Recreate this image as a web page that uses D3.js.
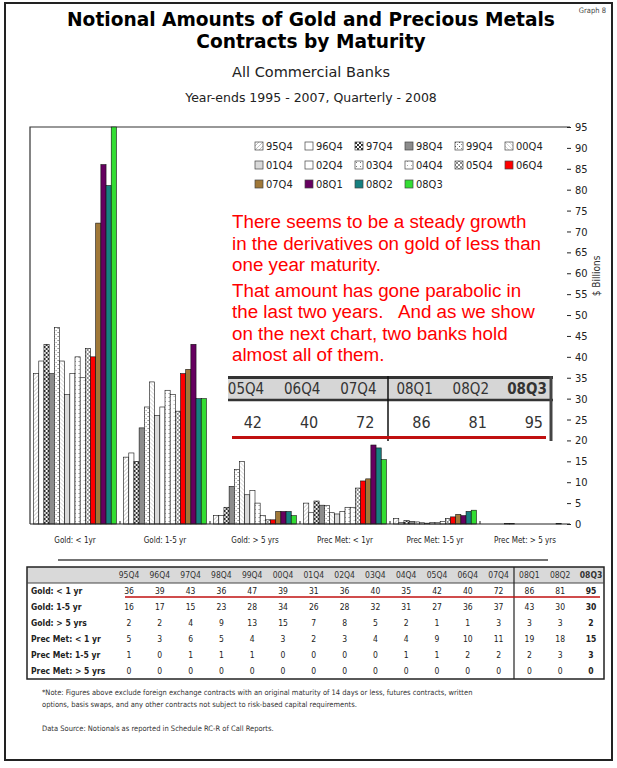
<!DOCTYPE html>
<html>
<head>
<meta charset="utf-8">
<script src="https://cdn.jsdelivr.net/npm/d3@7"></script>
<style>
  body { margin: 0; background: #fff; }
  svg text { font-family: "DejaVu Sans Condensed", "Liberation Sans Narrow", sans-serif; }
</style>
</head>
<body>
<svg id="chart" width="617" height="768"></svg>
<script>
// series (one bar per period in every group)
var series = ["95Q4", "96Q4", "97Q4", "98Q4", "99Q4", "00Q4", "01Q4", "02Q4",
    "03Q4", "04Q4", "05Q4", "06Q4", "07Q4", "08Q1", "08Q2", "08Q3"];
var categories = ["Gold: < 1yr", "Gold: 1-5 yr", "Gold: > 5 yrs",
    "Prec Met: < 1yr", "Prec Met: 1-5 yr", "Prec Met: > 5 yrs"];
var rowLabels = ["Gold: < 1 yr", "Gold: 1-5 yr", "Gold: > 5 yrs",
    "Prec Met: < 1 yr", "Prec Met: 1-5 yr", "Prec Met: > 5 yrs"];

var goldUnder1 = [36, 39, 43, 36, 47, 39, 31, 36, 40, 35, 42, 40, 72, 86, 81, 95];
var gold1to5 = [16, 17, 15, 23, 28, 34, 26, 28, 32, 31, 27, 36, 37, 43, 30, 30];
var goldOver5 = [2, 2, 4, 9, 13, 15, 7, 8, 5, 2, 1, 1, 3, 3, 3, 2];
var pmUnder1 = [5, 2.7, 5.5, 4.5, 4.4, 2.7, 2.4, 3, 4, 4, 8.6, 10.3, 10.8, 18.9, 18.2, 15.4];
var pm1to5 = [1.3, 0.4, 0.8, 0.6, 0.5, 0.3, 0.2, 0.4, 0.3, 0.6, 1.3, 1.7, 2.3, 2, 3, 3.3];
var pmOver5 = [0, 0, 0, 0, 0.15, 0.15, 0, 0, 0, 0, 0, 0, 0, 0, 0.15, 0];
var values = [goldUnder1, gold1to5, goldOver5, pmUnder1, pm1to5, pmOver5];

var yTicks = d3.range(0, 96, 5);

var svg = d3.select("#chart");
var defs = svg.append("defs");

// hatch patterns for the old year-end bars
function pat(id, bg, draw) {
    var p = defs.append("pattern").attr("id", id)
        .attr("patternUnits", "userSpaceOnUse").attr("width", 4).attr("height", 4);
    p.append("rect").attr("width", 4).attr("height", 4).attr("fill", bg);
    draw(p);
}
pat("p95", "#fff", function (p) {
    p.append("path").attr("d", "M0,4L4,0").attr("stroke", "#999").attr("stroke-width", 0.6);
});
pat("p97", "#fff", function (p) {
    p.append("rect").attr("width", 2).attr("height", 2).attr("fill", "#333");
    p.append("rect").attr("x", 2).attr("y", 2).attr("width", 2).attr("height", 2).attr("fill", "#333");
});
pat("p99", "#fff", function (p) {
    p.append("rect").attr("width", 1).attr("height", 1).attr("fill", "#555");
    p.append("rect").attr("x", 2).attr("y", 2).attr("width", 1).attr("height", 1).attr("fill", "#888");
});
pat("p00", "#fff", function (p) {
    p.append("path").attr("d", "M0,0L4,4").attr("stroke", "#bbb").attr("stroke-width", 0.6);
});
pat("p03", "#fff", function (p) {
    p.append("rect").attr("x", 1).attr("y", 1).attr("width", 1).attr("height", 1).attr("fill", "#777");
});
pat("p04", "#fff", function (p) {
    p.append("rect").attr("x", 2).attr("y", 0).attr("width", 1).attr("height", 1).attr("fill", "#aaa");
});
pat("p05", "#fff", function (p) {
    p.append("path").attr("d", "M0,0L4,4M0,4L4,0").attr("stroke", "#555").attr("stroke-width", 0.7);
});

var fills = ["url(#p95)", "#fff", "url(#p97)", "#8c8c8c", "url(#p99)", "url(#p00)",
    "#d9d9d9", "#fff", "url(#p03)", "url(#p04)", "url(#p05)",
    "#ff0000", "#a07838", "#660060", "#168080", "#33dd33"];
var color = d3.scaleOrdinal().domain(series).range(fills);

// outer frame
svg.append("rect").attr("x", 5).attr("y", 3).attr("width", 607).attr("height", 757)
    .attr("fill", "none").attr("stroke", "#222").attr("stroke-width", 2);

svg.append("text").attr("x", 606).attr("y", 13).attr("text-anchor", "end")
    .attr("font-size", 7.5).attr("fill", "#444").text("Graph 8");

var title = svg.append("g").attr("text-anchor", "middle");
title.append("text").attr("x", 311).attr("y", 26)
    .style("font-family", "'DejaVu Sans', sans-serif")
    .attr("font-size", 18.6).attr("font-weight", "bold").text("Notional Amounts of Gold and Precious Metals");
title.append("text").attr("x", 311).attr("y", 48)
    .style("font-family", "'DejaVu Sans', sans-serif")
    .attr("font-size", 18.6).attr("font-weight", "bold").text("Contracts by Maturity");
title.append("text").attr("x", 311).attr("y", 77)
    .style("font-family", "'DejaVu Sans', sans-serif")
    .attr("font-size", 14.5).attr("fill", "#222").text("All Commercial Banks");
title.append("text").attr("x", 311).attr("y", 102)
    .style("font-family", "'DejaVu Sans', sans-serif")
    .attr("font-size", 12.5).attr("fill", "#222").text("Year-ends 1995 - 2007, Quarterly - 2008");

// plot area
var plotL = 30, plotR = 570, plotT = 127, plotB = 524;
var x0 = d3.scaleBand().domain(categories).range([plotL, plotR]).paddingInner(0.08).paddingOuter(0.04);
var x1 = d3.scaleBand().domain(series).range([0, x0.bandwidth()]);
var y = d3.scaleLinear().domain([0, 95]).range([plotB, plotT]);

svg.append("path").attr("d", "M" + plotL + "," + plotB + "V" + plotT + "H" + plotR)
    .attr("fill", "none").attr("stroke", "#333").attr("stroke-width", 1.2);

var groups = svg.append("g").selectAll("g").data(categories).join("g")
    .attr("transform", function (d) { return "translate(" + x0(d) + ",0)"; });
groups.selectAll("rect")
    .data(function (d, i) {
        return values[i].map(function (v, j) { return { s: series[j], v: v }; })
            .filter(function (e) { return e.v > 0; });
    })
    .join("rect")
    .attr("x", function (d) { return x1(d.s); })
    .attr("y", function (d) { return y(d.v); })
    .attr("width", x1.bandwidth())
    .attr("height", function (d) { return plotB - y(d.v); })
    .attr("fill", function (d) { return color(d.s); })
    .attr("stroke", "#111").attr("stroke-width", 0.6);

// baseline with small category ticks
svg.append("line").attr("x1", plotL).attr("x2", plotR).attr("y1", plotB).attr("y2", plotB)
    .attr("stroke", "#222").attr("stroke-width", 1.2);
svg.append("g").selectAll("line").data(categories.slice(1)).join("line")
    .attr("x1", function (d) { return x0(d) - x0.step() * x0.paddingInner() / 2; })
    .attr("x2", function (d) { return x0(d) - x0.step() * x0.paddingInner() / 2; })
    .attr("y1", plotB).attr("y2", plotB - 3).attr("stroke", "#222");

svg.append("g").attr("font-size", 8).attr("text-anchor", "middle")
    .selectAll("text").data(categories).join("text")
    .attr("x", function (d) { return x0(d) + x0.bandwidth() / 2; })
    .attr("y", 543).attr("fill", "#222")
    .text(function (d) { return d; });

svg.append("line").attr("x1", 58).attr("x2", 548).attr("y1", 560).attr("y2", 560)
    .attr("stroke", "#444").attr("stroke-width", 1.5);

// y axis on the right
var yAxis = svg.append("g").attr("transform", "translate(567,0)")
    .call(d3.axisRight(y).tickValues(yTicks).tickSize(4).tickPadding(4));
yAxis.select(".domain").remove();
yAxis.selectAll("text").attr("font-size", 11).attr("fill", "#222")
    .style("font-family", "'DejaVu Sans Condensed', sans-serif");
yAxis.selectAll("line").attr("stroke", "#222");
svg.append("text").attr("transform", "translate(600,276) rotate(-90)")
    .attr("text-anchor", "middle").attr("font-size", 10).attr("fill", "#333").text("$ Billions");

// legend, three rows of six
var legend = svg.append("g").selectAll("g").data(series).join("g")
    .attr("transform", function (d, i) {
        return "translate(" + (255 + (i % 6) * 50) + "," + (146 + Math.floor(i / 6) * 19) + ")";
    });
legend.append("rect").attr("x", 0).attr("y", -4).attr("width", 8).attr("height", 8)
    .attr("fill", function (d) { return color(d); }).attr("stroke", "#444").attr("stroke-width", 0.7);
legend.append("text").attr("x", 11).attr("y", 4).attr("font-size", 11).attr("fill", "#222")
    .text(function (d) { return d; });

// red annotation
var note = ["There seems to be a steady growth", "in the derivatives on gold of less than",
    "one year maturity.", "That amount has gone parabolic in",
    "the last two years.   And as we show", "on the next chart, two banks hold",
    "almost all of them."];
var noteY = [228, 250, 271, 297, 318, 340, 361];
svg.append("g").selectAll("text").data(note).join("text")
    .attr("x", 232).attr("y", function (d, i) { return noteY[i]; })
    .style("font-family", "'Liberation Sans', Arial, sans-serif").style("white-space", "pre")
    .attr("font-size", 18.8).attr("fill", "#ff0000")
    .text(function (d) { return d; });

// pasted table snippet
var inset = svg.append("g");
var insetCols = series.slice(10);
var xi = d3.scalePoint().domain(insetCols).range([246, 527]);
inset.append("rect").attr("x", 228).attr("y", 376).attr("width", 325).attr("height", 65).attr("fill", "#fff");
inset.append("rect").attr("x", 228).attr("y", 378).attr("width", 323).attr("height", 21).attr("fill", "#d6d6d6");
inset.append("line").attr("x1", 228).attr("x2", 553).attr("y1", 377.5).attr("y2", 377.5)
    .attr("stroke", "#333").attr("stroke-width", 3);
inset.append("line").attr("x1", 228).attr("x2", 553).attr("y1", 400).attr("y2", 400)
    .attr("stroke", "#333").attr("stroke-width", 2.5);
inset.append("line").attr("x1", 388).attr("x2", 388).attr("y1", 376).attr("y2", 441)
    .attr("stroke", "#111").attr("stroke-width", 1.5);
inset.append("line").attr("x1", 551).attr("x2", 551).attr("y1", 376).attr("y2", 441)
    .attr("stroke", "#444").attr("stroke-width", 3);
inset.selectAll(".ih").data(insetCols).join("text").attr("class", "ih")
    .attr("x", function (d) { return xi(d); }).attr("y", 394)
    .attr("text-anchor", "middle").attr("font-size", 15).attr("fill", "#333")
    .attr("font-weight", function (d, i) { return i === 5 ? "bold" : "normal"; })
    .text(function (d) { return d; });
inset.selectAll(".iv").data(goldUnder1.slice(10)).join("text").attr("class", "iv")
    .attr("x", function (d, i) { return xi(insetCols[i]) + 16; }).attr("y", 428)
    .attr("text-anchor", "end").attr("font-size", 16).attr("fill", "#333")
    .text(function (d) { return d; });
inset.append("line").attr("x1", 232).attr("x2", 546).attr("y1", 437.5).attr("y2", 437.5)
    .attr("stroke", "#c01010").attr("stroke-width", 3);

// data table below the chart
var tbl = svg.append("g");
var xt = d3.scalePoint().domain(series).range([129, 591]);
var rowY = d3.scalePoint().domain(rowLabels).range([591, 671]);
tbl.append("rect").attr("x", 27).attr("y", 567).attr("width", 577).attr("height", 16).attr("fill", "#d9d9d9");
tbl.append("rect").attr("x", 27).attr("y", 567).attr("width", 577).attr("height", 112)
    .attr("fill", "none").attr("stroke", "#222").attr("stroke-width", 1.5);
tbl.append("line").attr("x1", 27).attr("x2", 604).attr("y1", 583).attr("y2", 583).attr("stroke", "#444");
tbl.append("line").attr("x1", 514).attr("x2", 514).attr("y1", 567).attr("y2", 679)
    .attr("stroke", "#222").attr("stroke-width", 1.2);
tbl.selectAll(".th").data(series).join("text").attr("class", "th")
    .attr("x", function (d) { return xt(d); }).attr("y", 578)
    .attr("text-anchor", "middle").attr("font-size", 8.5).attr("fill", "#333")
    .attr("font-weight", function (d) { return d === "08Q3" ? "bold" : "normal"; })
    .text(function (d) { return d; });
tbl.selectAll(".rl").data(rowLabels).join("text").attr("class", "rl")
    .attr("x", 31).attr("y", function (d) { return rowY(d) + 3; })
    .attr("font-size", 8.5).attr("font-weight", "bold").attr("fill", "#222")
    .text(function (d) { return d; });
var rows = tbl.selectAll(".row").data(values).join("g").attr("class", "row")
    .attr("transform", function (d, i) { return "translate(0," + (rowY(rowLabels[i]) + 3) + ")"; });
rows.selectAll("text").data(function (d) { return d; }).join("text")
    .attr("x", function (d, j) { return xt(series[j]); })
    .attr("text-anchor", "middle").attr("font-size", 8.5).attr("fill", "#222")
    .attr("font-weight", function (d, j) { return j === 15 ? "bold" : "normal"; })
    .text(function (d) { return Math.round(d); });
tbl.append("line").attr("x1", 125).attr("x2", 600).attr("y1", 597).attr("y2", 597)
    .attr("stroke", "#c01010").attr("stroke-width", 1.5);

// footnotes
var foot = svg.append("g").attr("font-size", 7.5).attr("fill", "#333");
foot.append("text").attr("x", 42).attr("y", 695)
    .text("*Note:  Figures above exclude foreign exchange contracts with an original maturity of 14 days or less, futures contracts, written");
foot.append("text").attr("x", 42).attr("y", 707)
    .text("options, basis swaps, and any other contracts not subject to risk-based capital requirements.");
foot.append("text").attr("x", 42).attr("y", 731)
    .text("Data Source: Notionals as reported in Schedule RC-R of Call Reports.");
</script>
</body>
</html>
